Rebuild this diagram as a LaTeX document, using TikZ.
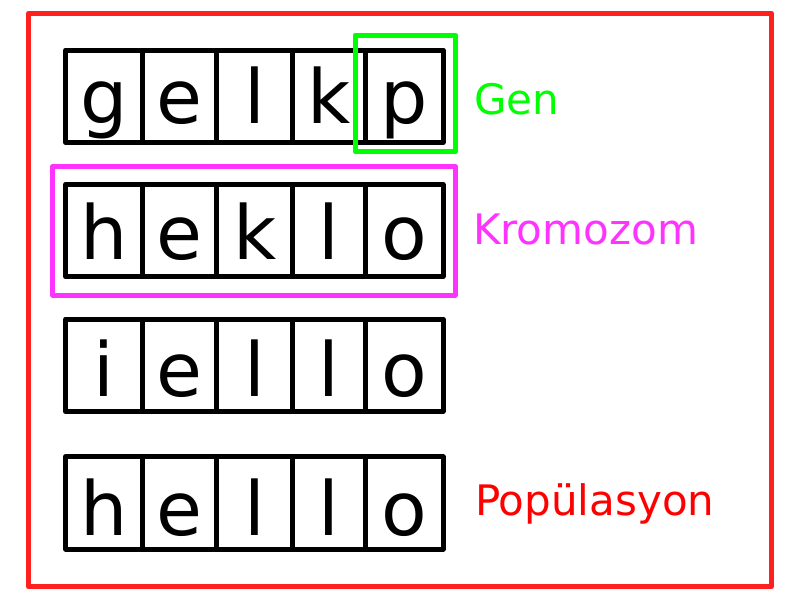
\documentclass[tikz,border=0pt]{standalone}
\usepackage{fontspec}
\setmainfont{DejaVu Sans}
\definecolor{boxred}{RGB}{255,32,32}
\definecolor{genGreen}{RGB}{0,255,0}
\definecolor{kromMag}{RGB}{255,51,255}
\definecolor{popRed}{RGB}{255,0,0}
\begin{document}
\begin{tikzpicture}[x=1pt,y=-1pt,
  cellbox/.style={draw=black,line width=5pt,line join=round,inner sep=0pt,outer sep=0pt,
    minimum width=#1,text width=#1,align=center,anchor=north,
    font=\fontsize{74.6}{80}\selectfont},
  grouprect/.style={line width=5pt,line join=round},
  lbl/.style={anchor=base west,inner sep=0pt,outer sep=0pt,font=\fontsize{42}{48}\selectfont}]
\useasboundingbox (0,0) rectangle (800,600);
\fill[white] (0,0) rectangle (800,600);
% population frame
\draw[grouprect,draw=boxred] (28.3,13.3) rectangle (771.7,586.7);
% rows of cells
\foreach \r/\rowtop/\txth/\word in {1/50/73.3/{g,e,l,k,p},2/184.3/75/{h,e,k,l,o},3/319/77.7/{i,e,l,l,o},4/456.7/78.3/{h,e,l,l,o}}{
  \pgfmathsetmacro\txtd{92.4-\txth}
  \foreach \ch [count=\i] in \word {
    \pgfmathsetmacro\cellx{{103.85,179.35,254.7,328.85,404}[\i-1]}
    \pgfmathsetmacro\cellw{{76.3,74.7,76,72.3,78}[\i-1]}
    \node[cellbox=\cellw pt, text height=\txth pt, text depth=\txtd pt] (c\r\i) at (\cellx,\rowtop) {\ch};
  }
}
% gene and chromosome highlights
\draw[grouprect,draw=genGreen] (355,35) rectangle (455.3,151.7);
\draw[grouprect,draw=kromMag] (52.3,166.7) rectangle (455.3,295);
% labels
\node[lbl,text=genGreen] (gen) at (474,114) {Gen};
\node[lbl,text=kromMag] (krom) at (473,244.3) {Kromozom};
\node[lbl,text=popRed] (pop) at (475,515) {Popülasyon};
\end{tikzpicture}
\end{document}
